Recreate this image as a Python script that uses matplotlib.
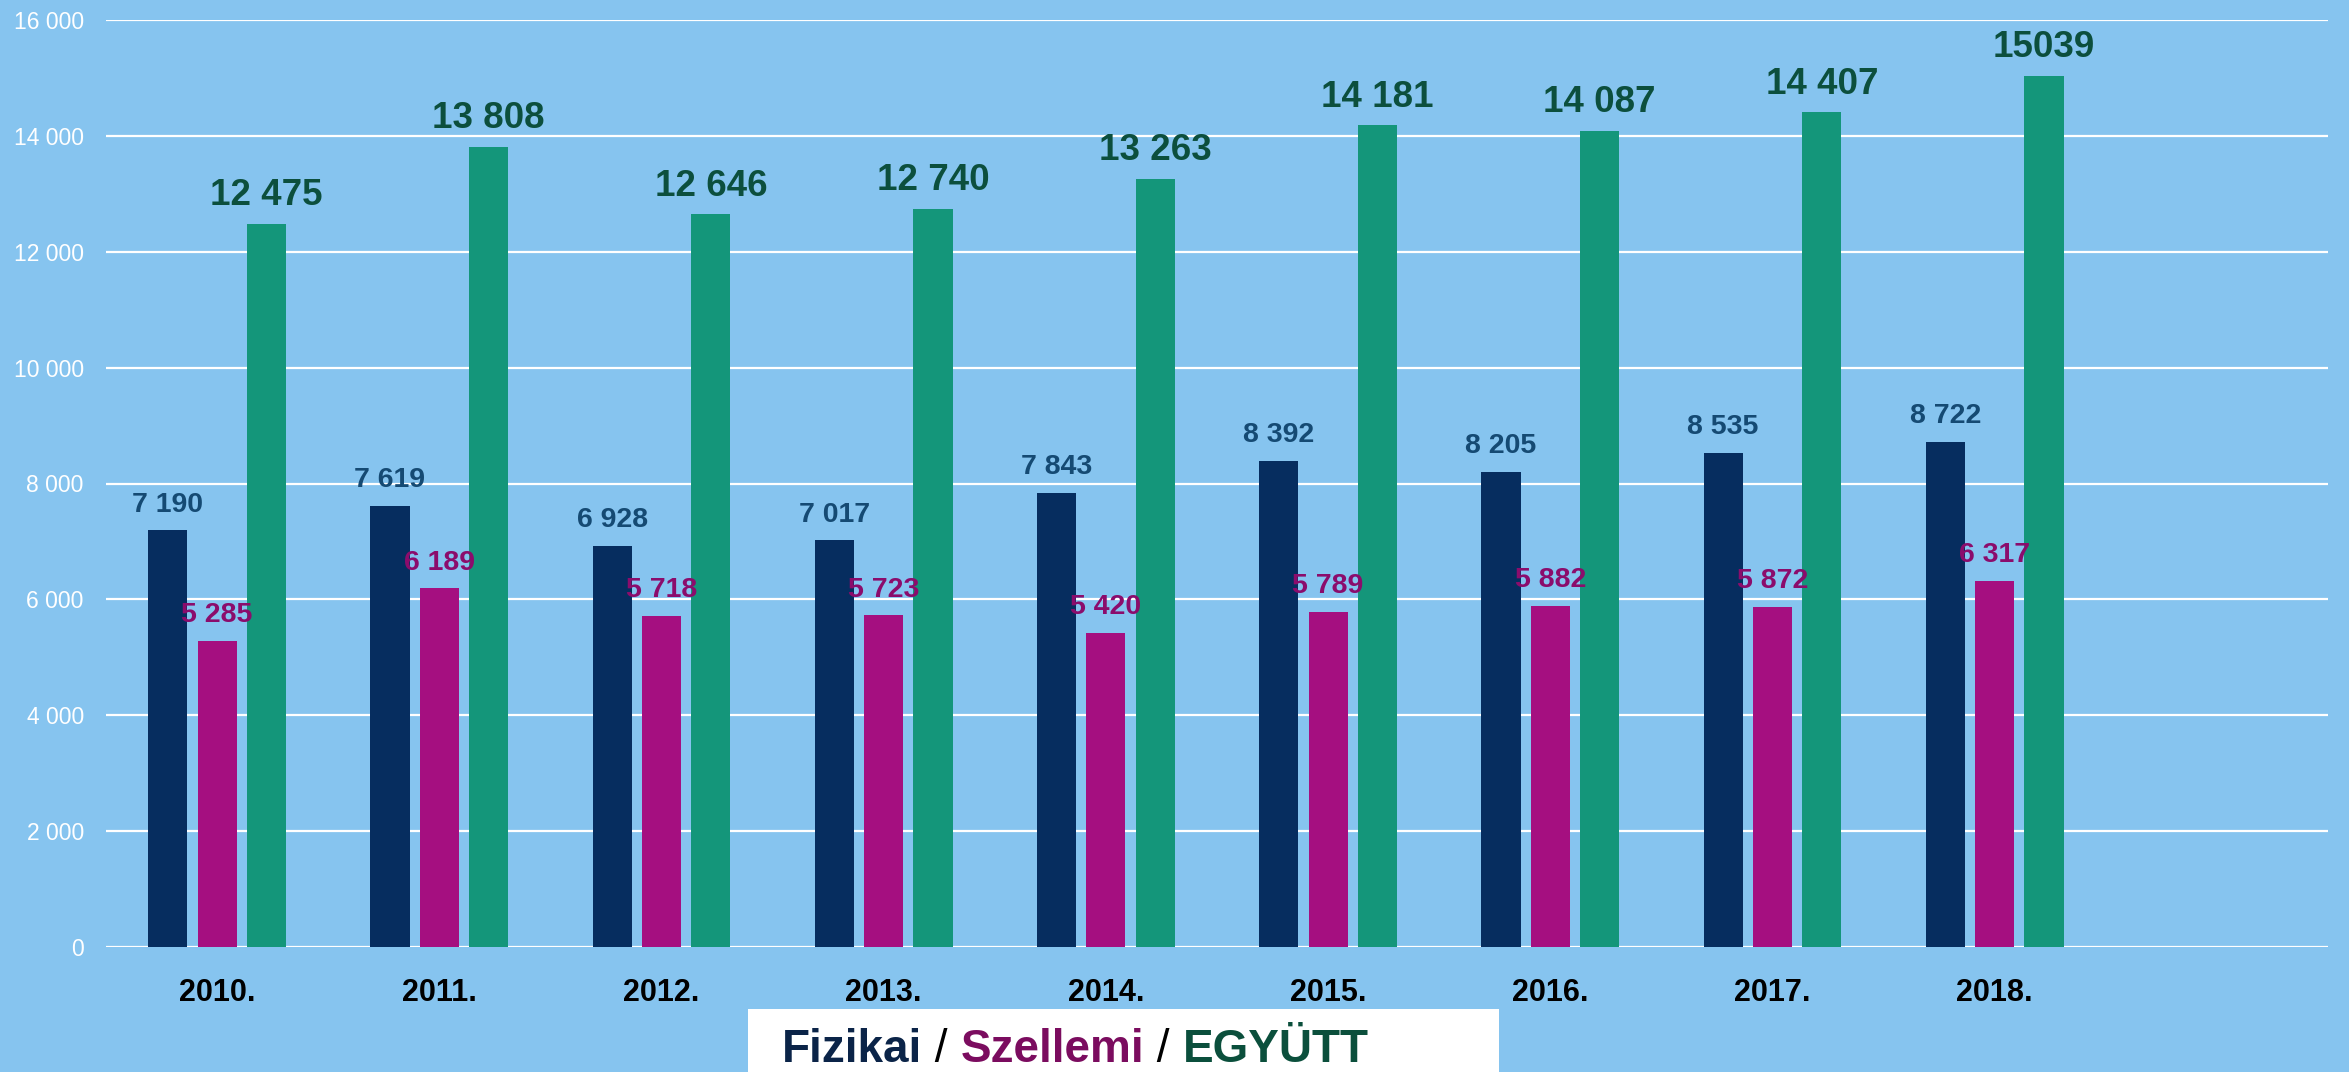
import numpy as np
import matplotlib
matplotlib.use("Agg")
import matplotlib.pyplot as plt
from matplotlib.patches import Rectangle
from matplotlib.text import Annotation

# data
years = ['2010.', '2011.', '2012.', '2013.', '2014.', '2015.', '2016.', '2017.', '2018.']
fizikai = [7190, 7619, 6928, 7017, 7843, 8392, 8205, 8535, 8722]
szellemi = [5285, 6189, 5718, 5723, 5420, 5789, 5882, 5872, 6317]
egyutt = [12475, 13808, 12646, 12740, 13263, 14181, 14087, 14407, 15039]
egyutt_labels = ['12 475', '13 808', '12 646', '12 740', '13 263', '14 181', '14 087', '14 407', '15039']
yticks = [0, 2000, 4000, 6000, 8000, 10000, 12000, 14000, 16000]

BG = '#86C4EF'
C_FIZ, C_SZE, C_EGY = '#062D5F', '#A50F80', '#14967A'
T_FIZ, T_SZE, T_EGY = '#154A73', '#8B0C6C', '#0C4F3D'


def fmt(v):
    return '{:,}'.format(v).replace(',', ' ')


fig = plt.figure(figsize=(23.49, 10.72), dpi=100, facecolor=BG)
ax = fig.add_axes([106 / 2349, 125 / 1072, 2222 / 2349, 927 / 1072])
ax.set_facecolor(BG)

x = np.arange(len(years))
w = 0.176
off = 0.222

b1 = ax.bar(x - off, fizikai, w, color=C_FIZ, zorder=3)
b2 = ax.bar(x, szellemi, w, color=C_SZE, zorder=3)
b3 = ax.bar(x + off, egyutt, w, color=C_EGY, zorder=3)

# value labels
for bars, labels, col, size in [(b1, [fmt(v) for v in fizikai], T_FIZ, 20.5),
                                (b2, [fmt(v) for v in szellemi], T_SZE, 20.5),
                                (b3, egyutt_labels, T_EGY, 26.5)]:
    for rect, lab in zip(bars, labels):
        ax.annotate(lab, (rect.get_x() + rect.get_width() / 2, rect.get_height()),
                    xytext=(0, 13.5), textcoords='offset points',
                    ha='center', va='baseline', color=col, fontsize=size,
                    fontweight='bold', family='Liberation Sans', zorder=4)

ax.set_xlim(-0.5, 9.5)
ax.set_ylim(0, 16000)
ax.set_yticks(yticks)
ax.set_yticklabels([fmt(v) for v in yticks], color='white', fontsize=16.5,
                   family='Liberation Sans')
ax.set_xticks(x)
ax.set_xticklabels(years, fontsize=22, fontweight='bold', family='Liberation Sans',
                   color='black')
ax.tick_params(axis='y', length=0, pad=16)
ax.tick_params(axis='x', length=0, pad=22)
ax.grid(axis='y', color='white', linewidth=1.6, zorder=0)
ax.set_axisbelow(True)
for s in ax.spines.values():
    s.set_visible(False)

# legend box at the bottom
fig.patches.append(Rectangle((748 / 2349, 0), 751 / 2349, 63 / 1072,
                             transform=fig.transFigure, facecolor='white',
                             edgecolor='none', zorder=5))
parts = [('Fizikai', '#0B2448', 'bold'), (' / ', 'black', 'normal'),
         ('Szellemi', '#7B0C5F', 'bold'), (' / ', 'black', 'normal'),
         ('EGYÜTT', '#0B4F3C', 'bold')]
prev = None
for txt, col, wt in parts:
    if prev is None:
        prev = fig.text(782 / 2349, 10 / 1072, txt, color=col, fontsize=33,
                        fontweight=wt, family='Liberation Sans', va='baseline',
                        zorder=6)
    else:
        prev = fig.add_artist(Annotation(txt, xy=(1, 0), xycoords=prev,
                                         va='bottom', ha='left', color=col,
                                         fontsize=33, fontweight=wt,
                                         family='Liberation Sans', zorder=6,
                                         annotation_clip=False))

fig.savefig('out.png', dpi=100, facecolor=BG)
